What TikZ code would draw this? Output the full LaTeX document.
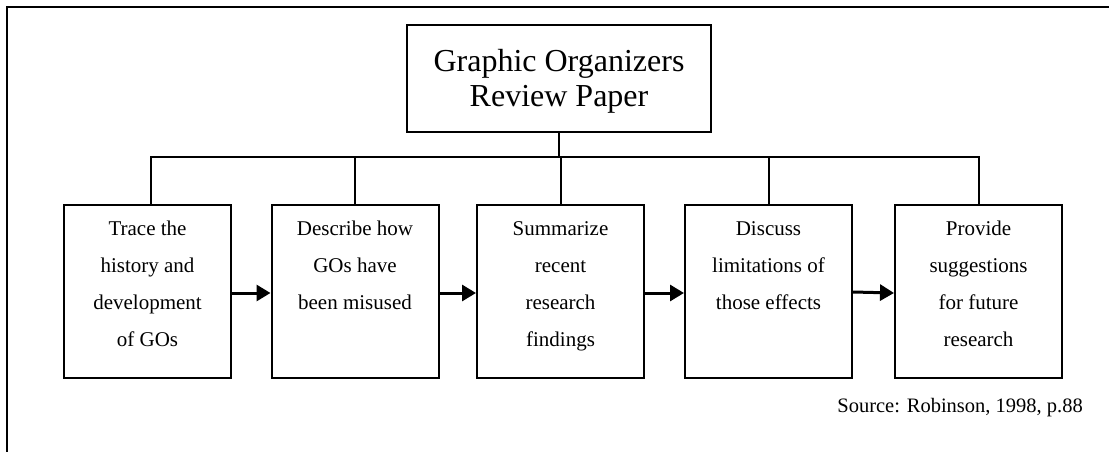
\documentclass[tikz,border=0pt]{standalone}
\usepackage{fontspec}
\setmainfont{Liberation Serif}
\usetikzlibrary{arrows.meta}
\begin{document}
\begin{tikzpicture}[x=1pt,y=-1pt,
  frame/.style={line width=2pt},
  titlebox/.style={draw,line width=2pt,minimum width=304pt,minimum height=107pt,
    inner sep=0pt,align=center,font=\fontsize{32}{35}\selectfont},
  stepbox/.style={draw,line width=2pt,minimum width=167pt,minimum height=173pt,
    inner sep=0pt},
  link/.style={line width=2pt},
  flow/.style={line width=3pt,-{Triangle[length=14pt,width=16pt]}}]
\useasboundingbox (0,0) rectangle (1109,452);
\newcommand{\steptext}[1]{\parbox[c][173pt][t]{162pt}{\centering
  \fontsize{21}{37}\selectfont\rule{0pt}{30pt}#1}}
% outer frame
\draw[frame] (1112,7) -- (7,7) -- (7,455);
% title
\node[titlebox] (top) at (559,78.5) {\rule{0pt}{27pt}Graphic Organizers\\Review Paper};
% steps
\node[stepbox] (b1) at (147.5,291.5) {\steptext{Trace the\\history and\\development\\of GOs}};
\node[stepbox] (b2) at (355,291.5) {\steptext{Describe how\\GOs have\\been misused}};
\node[stepbox] (b3) at (560.5,291.5) {\steptext{Summarize\\recent\\research\\findings}};
\node[stepbox] (b4) at (768.5,291.5) {\steptext{Discuss\\limitations of\\those effects}};
\node[stepbox] (b5) at (978.5,291.5) {\steptext{Provide\\suggestions\\for future\\research}};
% tree connectors
\coordinate (bus) at (559,157);
\draw[link] (top.south) -- (bus);
\draw[link] ([xshift=3.5pt]b1.north) -- ([xshift=3.5pt]b1.north |- bus) -- (b5.north |- bus) -- (b5.north);
\draw[link] (b2.north) -- (b2.north |- bus);
\draw[link] (b3.north) -- (b3.north |- bus);
\draw[link] (b4.north) -- (b4.north |- bus);
% sequence arrows
\draw[flow] ([yshift=-1.5pt]b1.east) -- ([yshift=-1.5pt]b2.west);
\draw[flow] ([yshift=-1.5pt]b2.east) -- ([yshift=-1.5pt]b3.west);
\draw[flow] ([yshift=-1.5pt]b3.east) -- ([yshift=-1.5pt]b4.west);
\draw[flow] ([yshift=-0.5pt]b4.east) -- ([yshift=-1.5pt]b5.west);
% source note
\node[anchor=base east,inner sep=0pt,font=\fontsize{20.5}{24}\selectfont] (src) at (1083,412) {Source: Robinson, 1998, p.88};
\end{tikzpicture}
\end{document}
